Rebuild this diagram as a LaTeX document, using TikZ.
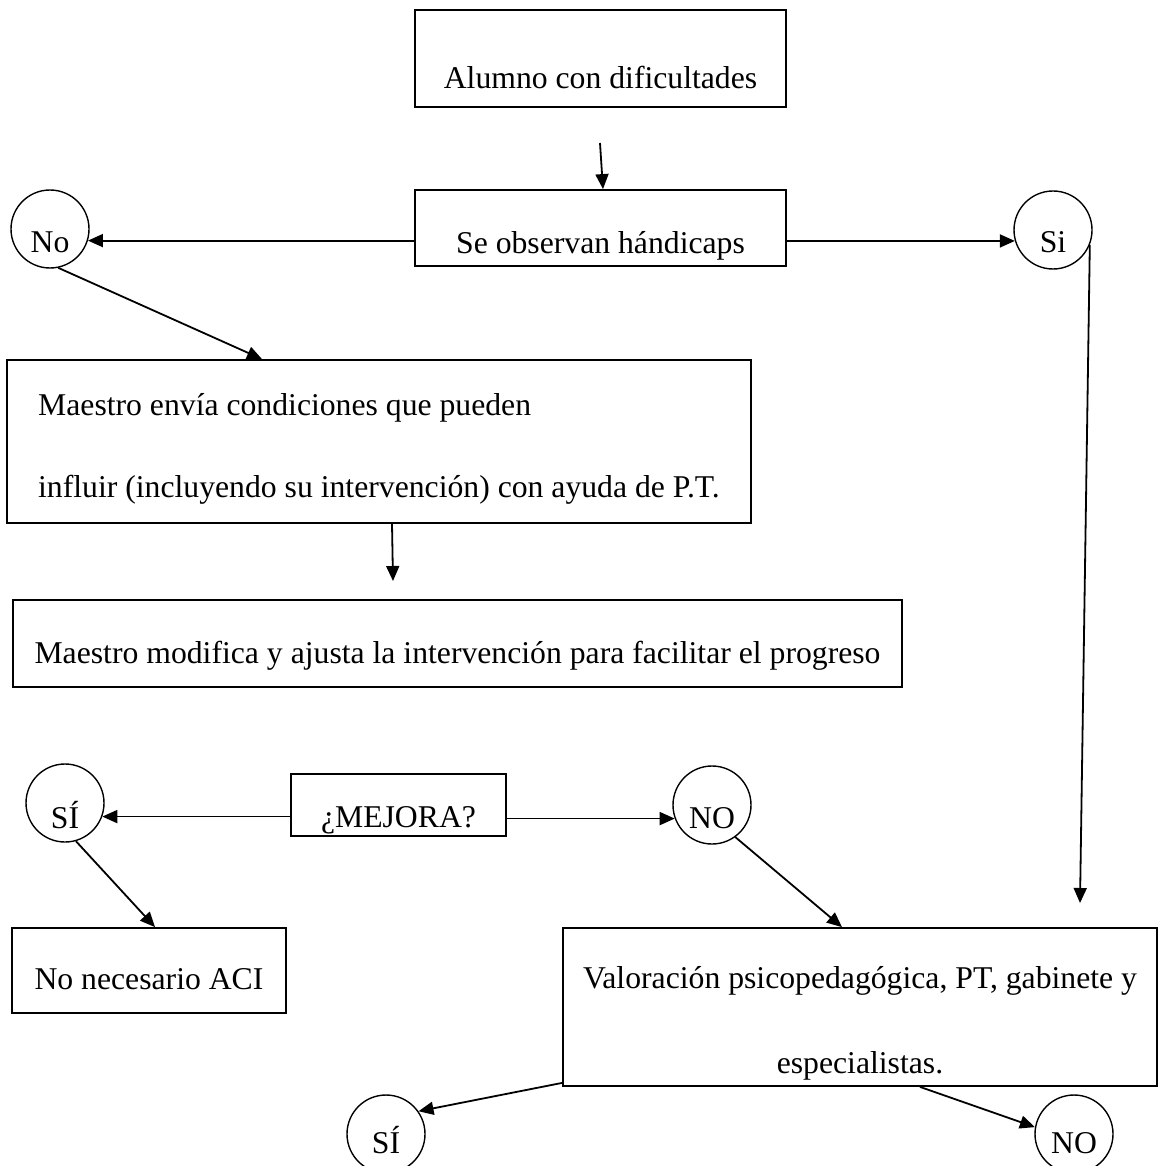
\documentclass[tikz,border=0pt]{standalone}
\usepackage{fontspec}
\setmainfont{Liberation Serif}
\usetikzlibrary{arrows.meta}

\tikzset{
  caja/.style={draw, line width=1.8pt, rectangle, inner sep=0pt},
  circ/.style={draw, line width=1.4pt, circle, minimum size=78pt, inner sep=0pt},
  flecha/.style={-{Triangle[length=15pt,width=13pt]}, line width=1.8pt},
  baja/.style={text height=#1, text depth=0pt},
}

\begin{document}
\begin{tikzpicture}[x=1pt, y=-1pt, font=\fontsize{31.7}{38}\selectfont]
  \useasboundingbox (0,0) rectangle (1158,1166);

  % cajas de arriba
  \node[caja, minimum width=371pt, minimum height=97pt, baja=61pt] (alumno) at (600.5,58.5) {Alumno con dificultades};
  \node[caja, minimum width=371pt, minimum height=76pt, baja=50pt] (observa) at (600.5,228) {Se observan hándicaps};
  \node[circ, baja=46pt] (no1) at (50,229) {No};
  \node[circ, baja=44pt] (si1) at (1053,230) {Si};

  % intervencion del maestro
  \node[caja, minimum width=744pt, minimum height=163pt, align=left,
        font=\fontsize{31.7}{82}\selectfont] (envia) at (379,441.5)
        {\rule{0pt}{37pt}Maestro envía condiciones que pueden\\influir (incluyendo su intervención) con ayuda de P.T.};
  \node[caja, minimum width=889pt, minimum height=87pt, baja=39pt] (modifica) at (457.5,643.5)
        {Maestro modifica y ajusta la intervención para facilitar el progreso};

  % mejora?
  \node[caja, minimum width=215pt, minimum height=62pt, baja=44pt] (mejora) at (398.5,805) {¿MEJORA?};
  \node[circ, baja=50pt] (si2) at (65,803) {SÍ};
  \node[circ, baja=46pt] (no2) at (712,805) {NO};
  \node[caja, minimum width=274pt, minimum height=85pt, baja=37pt] (noaci) at (149,970.5) {No necesario ACI};
  \node[caja, minimum width=594pt, minimum height=158pt, align=center,
        font=\fontsize{31.7}{85}\selectfont] (valora) at (860,1007)
        {\rule{0pt}{55pt}Valoración psicopedagógica, PT, gabinete y\\especialistas.};
  \node[circ, baja=38pt] (si3) at (386,1134) {SÍ};
  \node[circ, baja=38pt] (no3) at (1074,1134) {NO};

  % extremos sueltos
  \coordinate (a1) at (600,143);
  \coordinate (e1) at (393,581);
  \coordinate (v1) at (1080,903);

  % flechas
  \draw[flecha] (a1) -- ([xshift=2.5pt]observa.north);
  \draw[flecha] (observa.west |- no1.-17) -- (no1.-17);
  \draw[flecha] (observa.east |- si1.196) -- (si1.196);
  \draw[flecha] (no1.-78) -- ([xshift=-117pt]envia.north);
  \draw[flecha] ([xshift=13pt]envia.south) -- (e1);
  \draw[flecha] (mejora.west |- si2.-20) -- (si2.-20);
  \draw[flecha] (mejora.east |- no2.200) -- (no2.200);
  \draw[flecha] (si2.-74) -- ([xshift=6pt]noaci.north);
  \draw[flecha] (no2.-54) -- ([xshift=-18pt]valora.north);
  \draw[flecha] (si1.-22) -- (v1);
  \draw[flecha] ([yshift=4pt]valora.south west) -- (si3.35);
  \draw[flecha] ([xshift=60pt]valora.south) -- (no3.170);
\end{tikzpicture}
\end{document}
